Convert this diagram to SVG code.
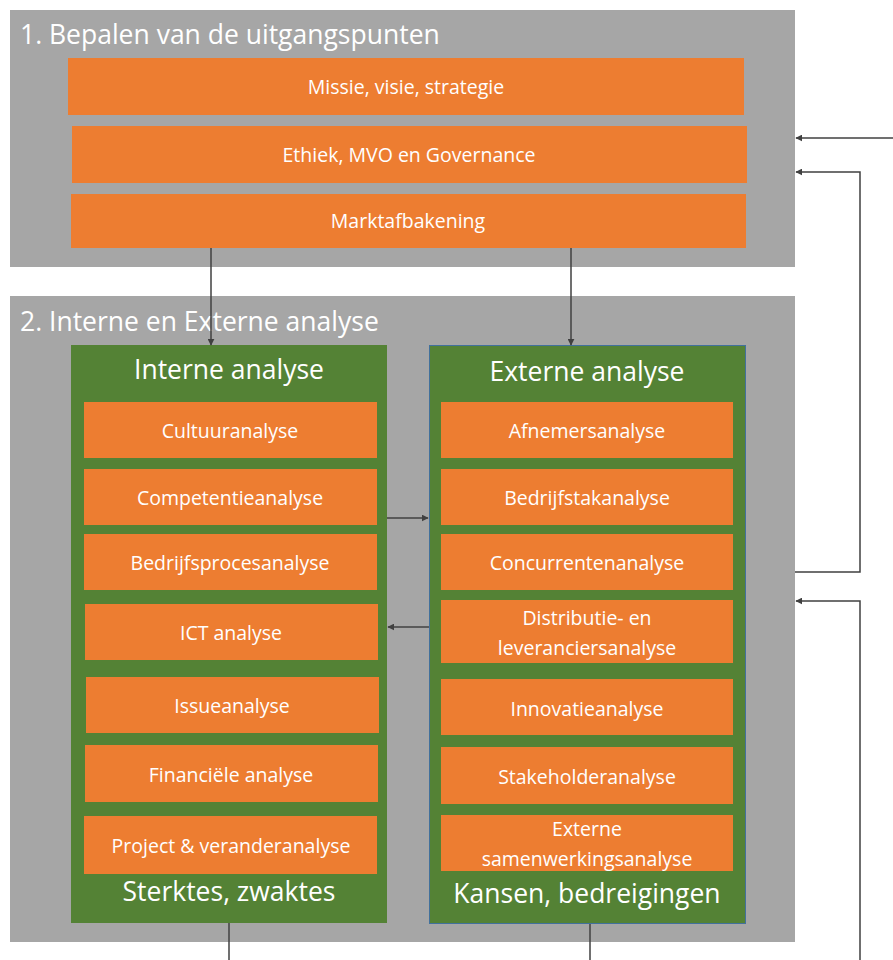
<svg xmlns="http://www.w3.org/2000/svg" width="893" height="960" viewBox="0 0 893 960">
<defs>
<style>
.gray{fill:#a6a6a6}
.or{fill:#ed7d31}
.gr{fill:#548235}
text{font-family:"Open Sans","Liberation Sans",sans-serif;fill:#ffffff}
.t{font-size:19.5px;text-anchor:middle}
.h{font-size:26.5px}
.hc{font-size:26.5px;text-anchor:middle}
.ln{fill:none;stroke:#404040;stroke-width:1.5}
</style>
<marker id="ah" viewBox="0 0 10 10" refX="9" refY="5" markerWidth="7" markerHeight="7" orient="auto-start-reverse" markerUnits="userSpaceOnUse">
<path d="M0,0 L10,5 L0,10 z" fill="#404040"/>
</marker>
</defs>
<rect width="893" height="960" fill="#ffffff"/>

<g id="stage1">
<rect class="gray" x="10" y="10" width="785" height="257"/>
<text class="h" x="20" y="44">1. Bepalen van de uitgangspunten</text>
</g>
<g id="missie"><rect class="or" x="68" y="58" width="676" height="57"/><text class="t" x="406" y="94">Missie, visie, strategie</text></g>
<g id="ethiek"><rect class="or" x="72" y="126" width="675" height="57"/><text class="t" x="409" y="162">Ethiek, MVO en Governance</text></g>
<g id="markt"><rect class="or" x="71" y="194" width="675" height="54"/><text class="t" x="408" y="228">Marktafbakening</text></g>

<g id="stage2">
<rect class="gray" x="10" y="296" width="785" height="646"/>
<text class="h" x="20" y="331">2. Interne en Externe analyse</text>
</g>

<g id="interne">
<rect class="gr" x="71" y="345" width="316" height="578"/>
<text class="hc" x="229" y="379">Interne analyse</text>
<text class="hc" x="229" y="901">Sterktes, zwaktes</text>
</g>
<g id="externe">
<rect class="gr" x="429.5" y="345.5" width="316" height="578" stroke="#41719c" stroke-width="1"/>
<text class="hc" x="587" y="381">Externe analyse</text>
<text class="hc" x="587" y="903">Kansen, bedreigingen</text>
</g>

<g id="cultuur"><rect class="or" x="84" y="402" width="293" height="56"/><text class="t" x="230" y="438">Cultuuranalyse</text></g>
<g id="competentie"><rect class="or" x="84" y="469" width="293" height="56"/><text class="t" x="230" y="505">Competentieanalyse</text></g>
<g id="bedrijfsproces"><rect class="or" x="84" y="534" width="293" height="56"/><text class="t" x="230" y="570">Bedrijfsprocesanalyse</text></g>
<g id="ict"><rect class="or" x="85" y="604" width="293" height="56"/><text class="t" x="231" y="640">ICT analyse</text></g>
<g id="issue"><rect class="or" x="86" y="677" width="293" height="56"/><text class="t" x="232" y="713">Issueanalyse</text></g>
<g id="financieel"><rect class="or" x="85" y="745" width="293" height="57"/><text class="t" x="231" y="782">Financiële analyse</text></g>
<g id="project"><rect class="or" x="84" y="816" width="293" height="58"/><text class="t" x="231" y="853">Project &amp; veranderanalyse</text></g>

<g id="afnemers"><rect class="or" x="441" y="402" width="292" height="56"/><text class="t" x="587" y="438">Afnemersanalyse</text></g>
<g id="bedrijfstak"><rect class="or" x="441" y="469" width="292" height="56"/><text class="t" x="587" y="505">Bedrijfstakanalyse</text></g>
<g id="concurrenten"><rect class="or" x="441" y="534" width="292" height="56"/><text class="t" x="587" y="570">Concurrentenanalyse</text></g>
<g id="distributie"><rect class="or" x="441" y="600" width="292" height="63"/><text class="t" x="587" y="625">Distributie- en</text><text class="t" x="587" y="655">leveranciersanalyse</text></g>
<g id="innovatie"><rect class="or" x="441" y="679" width="292" height="56"/><text class="t" x="587" y="716">Innovatieanalyse</text></g>
<g id="stakeholder"><rect class="or" x="441" y="747" width="292" height="57"/><text class="t" x="587" y="784">Stakeholderanalyse</text></g>
<g id="samenwerking"><rect class="or" x="441" y="815" width="292" height="56"/><text class="t" x="587" y="836">Externe</text><text class="t" x="587" y="866">samenwerkingsanalyse</text></g>

<g id="connectors">
<line class="ln" x1="211" y1="248" x2="211" y2="345" marker-end="url(#ah)"/>
<line class="ln" x1="571" y1="248" x2="571" y2="345" marker-end="url(#ah)"/>
<line class="ln" x1="387" y1="518" x2="428" y2="518" marker-end="url(#ah)"/>
<line class="ln" x1="429" y1="627" x2="388" y2="627" marker-end="url(#ah)"/>
<line class="ln" x1="893" y1="138" x2="796" y2="138" marker-end="url(#ah)"/>
<polyline class="ln" points="795,572 860,572 860,172 796,172" marker-end="url(#ah)"/>
<polyline class="ln" points="860,960 860,601 796,601" marker-end="url(#ah)"/>
<line class="ln" x1="229" y1="923" x2="229" y2="960"/>
<line class="ln" x1="590" y1="924" x2="590" y2="960"/>
</g>
</svg>
